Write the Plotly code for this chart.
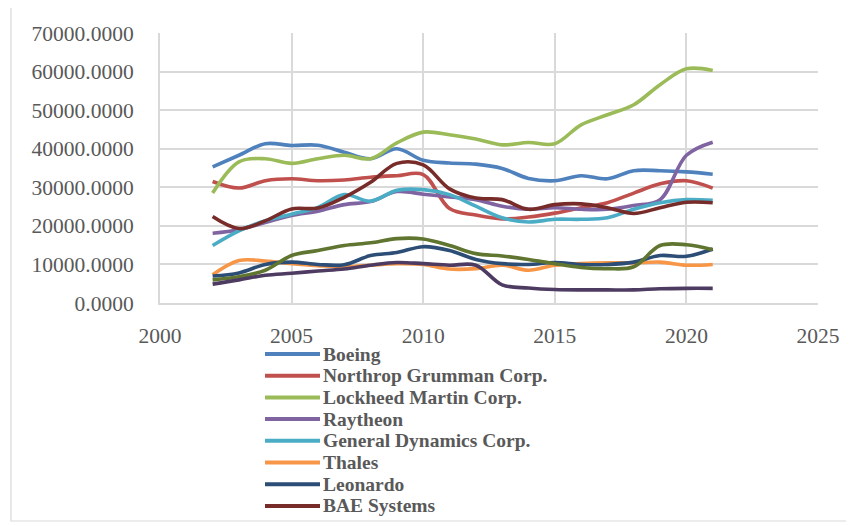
import plotly.graph_objects as go

years = list(range(2002, 2022))

boeing = [35300, 38300, 41300, 40850, 40900, 39100, 37400, 40000, 37000, 36300,
          36000, 34900, 32300, 31700, 33000, 32200, 34300, 34300, 34000, 33400]
northrop = [31500, 29800, 31700, 32200, 31700, 31900, 32600, 33000, 33300, 24500,
            22800, 21800, 22300, 23300, 24700, 26000, 28500, 30900, 31700, 29800]
lockheed = [28500, 36600, 37400, 36200, 37400, 38300, 37400, 41500, 44300, 43600,
            42500, 41000, 41600, 41300, 46200, 48800, 51400, 56600, 60700, 60300]
raytheon = [18100, 19000, 20850, 22700, 23800, 25500, 26300, 28900, 28200, 27500,
            26800, 25100, 24300, 24700, 24300, 24300, 25300, 26800, 38300, 41700]
general_dynamics = [14900, 18700, 21300, 23000, 24800, 28100, 26400, 29200, 29400, 28100,
                    25100, 22100, 21000, 21700, 21700, 22100, 24300, 26000, 26800, 26600]
thales = [7300, 11000, 10900, 10200, 9700, 9400, 9800, 10200, 10000, 8800,
          8900, 9800, 8500, 9800, 10200, 10400, 10400, 10600, 9800, 10000]
leonardo = [7000, 7800, 10000, 10600, 10000, 9900, 12300, 13100, 14600, 13600,
            11300, 10200, 10000, 10500, 10000, 10000, 10600, 12300, 12100, 14000]
bae_systems = [22400, 19300, 21300, 24400, 24600, 27400, 31300, 36200, 35800, 29600,
               27200, 26800, 24300, 25500, 25700, 24700, 23200, 24700, 26100, 26000]
series_9 = [6000, 6800, 8500, 12300, 13600, 14900, 15600, 16700, 16600, 14900,
            12800, 12200, 11300, 10200, 9200, 8900, 9400, 14900, 15100, 13800]
series_10 = [4900, 6000, 7200, 7700, 8300, 8800, 9800, 10500, 10200, 9800,
             9800, 4700, 3900, 3500, 3400, 3400, 3400, 3700, 3800, 3800]

names = ["Boeing", "Northrop Grumman Corp.", "Lockheed Martin Corp.", "Raytheon",
         "General Dynamics Corp.", "Thales", "Leonardo", "BAE Systems",
         "Series 9", "Series 10"]
series = [boeing, northrop, lockheed, raytheon, general_dynamics, thales,
          leonardo, bae_systems, series_9, series_10]
colors = ["#4F81BD", "#C0504D", "#9BBB59", "#8064A2", "#4BACC6", "#F79646",
          "#2C4D75", "#772C2A", "#5F7530", "#4D3B62"]
legend_count = 8

# page body has an 8px margin, so the figure is shrunk and everything shifted by it
OFF = 8
W, H = 854 - OFF, 526 - OFF
PLOT_L, PLOT_R, PLOT_T, PLOT_B = 160, 818, 33, 303   # reference page pixels
L, T = PLOT_L - OFF, PLOT_T - OFF
R, B = W - (PLOT_R - OFF), H - (PLOT_B - OFF)
PW, PH = PLOT_R - PLOT_L, PLOT_B - PLOT_T

def px(x, y):
    return (x - PLOT_L) / PW, (PLOT_B - y) / PH

fig = go.Figure()
for name, vals, col in zip(names, series, colors):
    fig.add_trace(go.Scatter(
        x=years, y=vals, name=name, mode="lines",
        line=dict(color=col, width=3.6, shape="spline", smoothing=1.0),
        showlegend=False,
    ))

shapes = []
annotations = []
# outer chart border
bx0, by1 = px(11, 7)
bx1, by0 = px(847, 521)
shapes.append(dict(type="rect", xref="paper", yref="paper", x0=bx0, x1=bx1, y0=by0, y1=by1,
                   line=dict(color="#D9D9D9", width=1.2), layer="below"))

# legend (first 8 entries, as in the reference)
row0, drow = 354, 21.7
for i in range(legend_count):
    yy = row0 + i * drow
    lx0, ly = px(265, yy)
    lx1, _ = px(320, yy)
    tx, _ = px(322, yy)
    shapes.append(dict(type="line", xref="paper", yref="paper", x0=lx0, x1=lx1, y0=ly, y1=ly,
                       line=dict(color=colors[i], width=4)))
    annotations.append(dict(xref="paper", yref="paper", x=tx, y=ly, xanchor="left",
                            yanchor="middle", showarrow=False, text="<b>%s</b>" % names[i],
                            borderpad=0,
                            font=dict(family="Liberation Serif", size=19.5, color="#595959")))

tickfont = dict(family="Liberation Serif", size=21.5, color="#595959")
fig.update_layout(
    width=W, height=H,
    margin=dict(l=L, r=R, t=T, b=B),
    paper_bgcolor="white", plot_bgcolor="white",
    showlegend=False,
    shapes=shapes, annotations=annotations,
    xaxis=dict(range=[2000, 2025], dtick=5, tick0=2000, showgrid=True,
               gridcolor="#D9D9D9", gridwidth=2, showline=True, linecolor="#D9D9D9",
               linewidth=2, zeroline=False, tickfont=tickfont, ticks="",
               ticklabelstandoff=12, fixedrange=True),
    yaxis=dict(range=[0, 70000], dtick=10000, tickformat=".4f", showgrid=True,
               gridcolor="#D9D9D9", gridwidth=2, showline=True, linecolor="#D9D9D9",
               linewidth=2, zeroline=False, tickfont=tickfont, ticks="",
               ticklabelstandoff=20, fixedrange=True),
)

fig.write_html("out.html")
